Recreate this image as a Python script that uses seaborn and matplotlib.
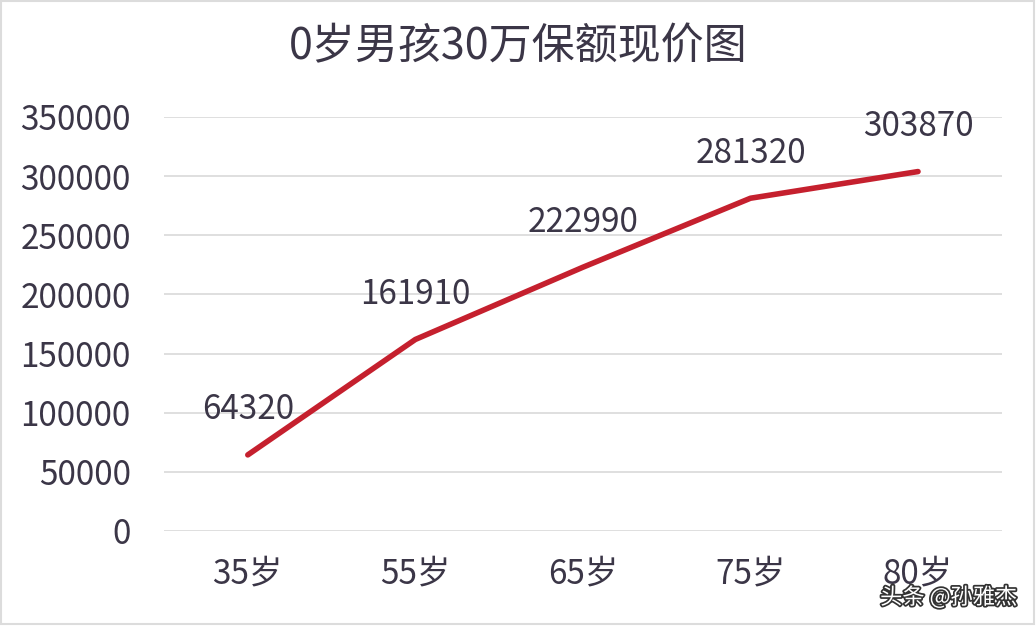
import matplotlib
matplotlib.use("Agg")
import matplotlib.pyplot as plt
import matplotlib.patheffects as pe
import seaborn as sns
import pandas as pd

# data
ages = ["35岁", "55岁", "65岁", "75岁", "80岁"]
cash_values = [64320, 161910, 222990, 281320, 303870]
y_ticks = [0, 50000, 100000, 150000, 200000, 250000, 300000, 350000]

title = "0岁男孩30万保额现价图"
watermark = "头条 @孙雅杰"

text_color = "#3b3647"
line_color = "#c5202e"
grid_color = "#d9d9d9"

sns.set_theme(style="white")
plt.rcParams["font.family"] = ["Noto Sans CJK SC", "DejaVu Sans"]

df = pd.DataFrame({"age": ages, "value": cash_values})

fig = plt.figure(figsize=(10.36, 6.26), dpi=100)
ax = fig.add_axes([0.1583, 0.1518, 0.8087, 0.6613])

ax.set_ylim(0, 350000)
ax.set_yticks(y_ticks)
for t in y_ticks:
    ax.axhline(t, color=grid_color, lw=1.2, zorder=0)

sns.lineplot(data=df, x="age", y="value", ax=ax, color=line_color, lw=4,
             solid_capstyle="round", zorder=3)
ax.set_xlim(-0.5, len(ages) - 0.5)

for i, v in enumerate(cash_values):
    ax.annotate(f"{v}", (i, v), xytext=(0, 45), textcoords="offset pixels",
                ha="center", va="center", fontsize=24, color=text_color,
                fontweight="light", zorder=4)

ax.set_xticks(range(len(ages)))
ax.set_xticklabels(ages, fontsize=24, color=text_color, fontweight="light")
ax.set_yticklabels([str(t) for t in y_ticks], fontsize=24, color=text_color,
                   fontweight="light")
ax.tick_params(axis="x", length=0, pad=18)
ax.tick_params(axis="y", length=0, pad=24)
ax.set_xlabel("")
ax.set_ylabel("")
for s in ax.spines.values():
    s.set_visible(False)

fig.text(0.5, 0.925, title, ha="center", va="center", fontsize=31,
         color=text_color, fontweight="light")

fig.text(0.982, 0.046, watermark, ha="right", va="center", fontsize=16,
         color="white",
         path_effects=[pe.withStroke(linewidth=2.5, foreground="#333333")])

# thin border around the picture
fig.patches.append(plt.Rectangle((0.001, 0.003), 0.997, 0.995,
                                 transform=fig.transFigure, fill=False,
                                 edgecolor="#dcdcdc", lw=1.5))

fig.savefig("out.png", dpi=100)
